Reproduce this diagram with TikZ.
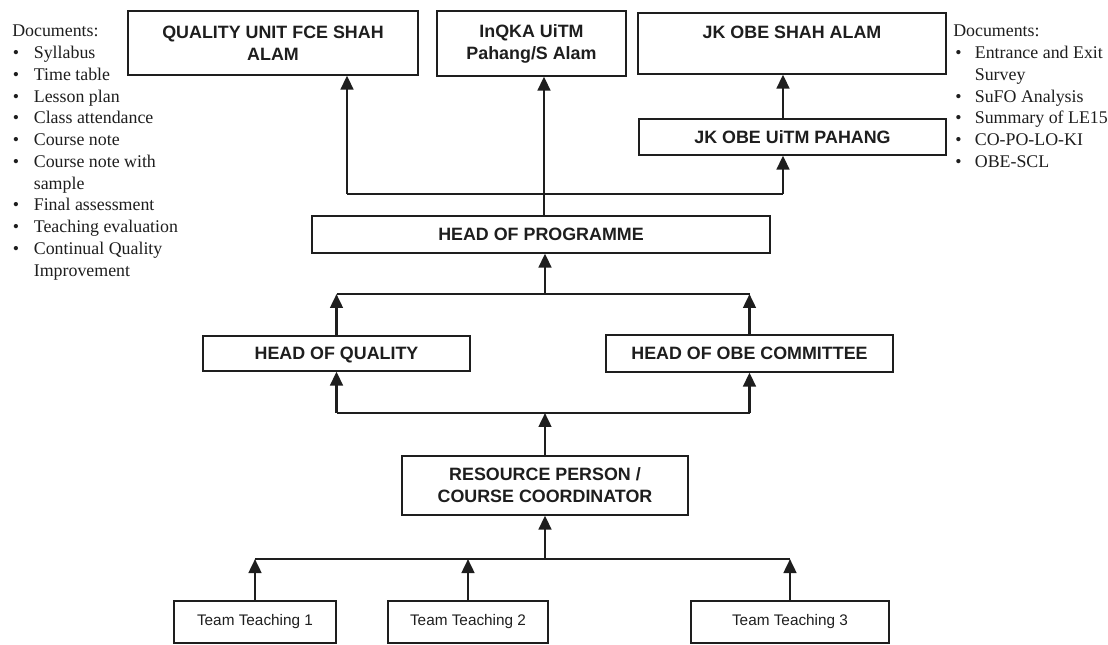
\documentclass[tikz,border=0pt]{standalone}
\usepackage{fontspec}
\setmainfont{Liberation Serif}
\setsansfont{Liberation Sans}
\usetikzlibrary{arrows.meta,calc}
\definecolor{OrgInk}{HTML}{1E1E1E}

\begin{document}
\begin{tikzpicture}[x=0.75pt,y=-0.75pt,
  orgbox/.style={draw=OrgInk,line width=0.9pt,text=OrgInk,align=center,inner sep=2pt,
        font=\sffamily\bfseries\fontsize{13.4}{16.5}\selectfont},
  teambox/.style={orgbox,font=\sffamily\fontsize{11.5}{14}\selectfont},
  bus/.style={draw=OrgInk,line width=1pt},
  uparrow/.style={draw=OrgInk,line width=1.9pt,-{Triangle[length=10.5pt,width=9.5pt]}},
  doclist/.style={anchor=base west,inner sep=0pt,text=OrgInk,
        font=\rmfamily\fontsize{13.4}{16.3}\selectfont}]
  \useasboundingbox (0,0) rectangle (1108,645);

  % top row
  \node[orgbox,minimum width=217.5pt,minimum height=48pt] (qunit) at (273,43)
        {QUALITY UNIT FCE SHAH\\ALAM};
  \node[orgbox,minimum width=141.75pt,minimum height=48.75pt] (inqka) at (531.5,43.5)
        {InQKA UiTM\\Pahang/S Alam};
  \node[orgbox,minimum width=231pt,minimum height=45.75pt] (jkshah) at (792,43.5)
        {JK OBE SHAH ALAM\\\mbox{}};
  \node[orgbox,minimum width=230.25pt,minimum height=27pt] (jkpahang) at (792.5,137)
        {JK OBE UiTM PAHANG};

  % programme level
  \node[orgbox,minimum width=343.5pt,minimum height=27.75pt] (hop) at (541,234.5)
        {HEAD OF PROGRAMME};
  \node[orgbox,minimum width=200.25pt,minimum height=26.25pt,text depth=0pt] (hoq) at (336.5,353.5)
        {HEAD OF QUALITY};
  \node[orgbox,minimum width=215.25pt,minimum height=27.75pt] (hoobe) at (749.5,353.5)
        {HEAD OF OBE COMMITTEE};
  \node[orgbox,minimum width=214.5pt,minimum height=44.25pt] (rp) at (545,485.5)
        {RESOURCE PERSON /\\COURSE COORDINATOR};

  % teams
  \node[teambox,minimum width=121.5pt,minimum height=31.5pt] (tt1) at (255,622) {Team Teaching 1};
  \node[teambox,minimum width=120pt,minimum height=31.5pt] (tt2) at (468,622) {Team Teaching 2};
  \node[teambox,minimum width=148.5pt,minimum height=31.5pt] (tt3) at (790,622) {Team Teaching 3};

  % documents
  \node[doclist] (leftdocs) at (12,37) {\begin{tabular}[t]{@{\hspace{0.5pt}}l@{\hspace{11pt}}l@{}}
    \multicolumn{2}{@{}l@{}}{Documents:}\\
    \textbullet & Syllabus\\
    \textbullet & Time table\\
    \textbullet & Lesson plan\\
    \textbullet & Class attendance\\
    \textbullet & Course note\\
    \textbullet & Course note with\\
                & sample\\
    \textbullet & Final assessment\\
    \textbullet & Teaching evaluation\\
    \textbullet & Continual Quality\\
                & Improvement
  \end{tabular}};
  \node[doclist] (rightdocs) at (953,37) {\begin{tabular}[t]{@{\hspace{1.5pt}}l@{\hspace{10pt}}l@{}}
    \multicolumn{2}{@{}l@{}}{Documents:}\\
    \textbullet & Entrance and Exit\\
                & Survey\\
    \textbullet & SuFO Analysis\\
    \textbullet & Summary of LE15\\
    \textbullet & CO-PO-LO-KI\\
    \textbullet & OBE-SCL
  \end{tabular}};

  % connectors
  \coordinate (topbus) at (544,194);
  \coordinate (midbus) at (545,294);
  \coordinate (lowbus) at (545,413);
  \coordinate (teambus) at (545,559);
  \coordinate (qin) at ($(qunit.south)+(74,0)$);
  \coordinate (jkin) at ($(jkpahang.south)+(-9.5,0)$);

  \draw[bus] (topbus -| qin) -- (topbus -| jkin);
  \draw[uparrow] (topbus -| qin) -- (qin);
  \draw[uparrow] (topbus -| jkin) -- (jkin);
  \draw[uparrow] (jkpahang.north -| jkin) -- (jkshah.south -| jkin);
  \draw[uparrow] (hop.north -| topbus) -- (inqka.south -| topbus);

  \draw[bus] (midbus -| hoq.north) -- (midbus -| hoobe.north);
  \draw[uparrow] (midbus) -- (hop.south -| midbus);
  \draw[uparrow] (hoq.north) -- (midbus -| hoq.north);
  \draw[uparrow] (hoobe.north) -- (midbus -| hoobe.north);

  \draw[bus] (lowbus -| hoq.south) -- (lowbus -| hoobe.south);
  \draw[uparrow] (lowbus -| hoq.south) -- (hoq.south);
  \draw[uparrow] (lowbus -| hoobe.south) -- (hoobe.south);
  \draw[uparrow] (rp.north) -- (lowbus -| rp.north);

  \draw[bus] (teambus -| tt1.north) -- (teambus -| tt3.north);
  \draw[uparrow] (teambus -| rp.south) -- (rp.south);
  \foreach \t in {tt1,tt2,tt3}
    \draw[uparrow] (\t.north) -- (teambus -| \t.north);
\end{tikzpicture}
\end{document}
